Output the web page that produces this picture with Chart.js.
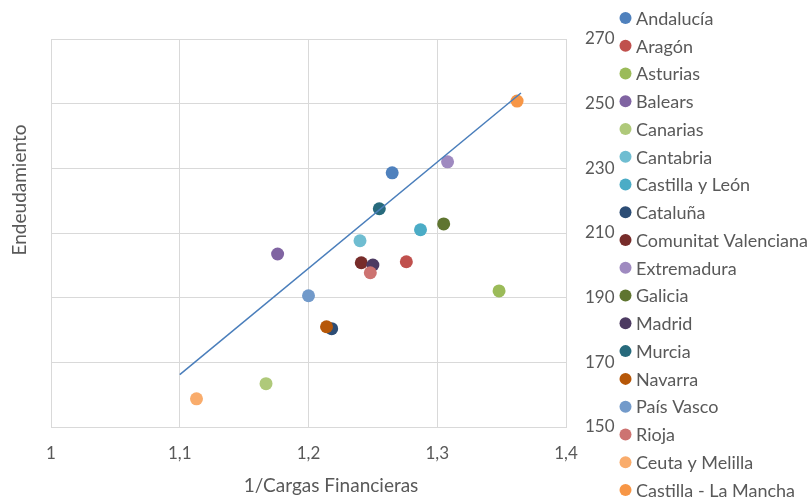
<!DOCTYPE html>
<html>
<head>
<meta charset="utf-8">
<script src="https://cdn.jsdelivr.net/npm/chart.js@4.4.1/dist/chart.umd.min.js"></script>
<style>
  html, body { margin: 0; padding: 0; background: #fff; }
  #wrap { width: 809px; height: 500px; }
</style>
</head>
<body>
<div id="wrap"><canvas id="myChart" width="809" height="500"></canvas></div>
<script>
// regions and their values
var regions = ['Andalucía', 'Aragón', 'Asturias', 'Balears', 'Canarias', 'Cantabria', 'Castilla y León',
  'Cataluña', 'Comunitat Valenciana', 'Extremadura', 'Galicia', 'Madrid', 'Murcia', 'Navarra',
  'País Vasco', 'Rioja', 'Ceuta y Melilla', 'Castilla - La Mancha']
var cargas = [1.265, 1.276, 1.348, 1.176, 1.167, 1.240, 1.287, 1.218, 1.241, 1.308, 1.305, 1.250,
  1.255, 1.214, 1.200, 1.248, 1.113, 1.362]
var endeudamiento = [228.6, 201.1, 192.1, 203.5, 163.4, 207.6, 211.0, 180.4, 200.8, 232.0, 212.8, 200.1,
  217.5, 181.0, 190.6, 197.7, 158.7, 250.8]
// trend line ends
var trendX = [1.1, 1.365]
var trendY = [166.2, 253.3]
// ticks
var xTicks = [1, 1.1, 1.2, 1.3, 1.4]
var yTicks = [150, 170, 190, 210, 230, 250, 270]

var colors = ['#4F81BD', '#C0504D', '#9BBB59', '#8064A2', '#AFC97A', '#6FBDD1', '#4BACC6',
  '#2C4D75', '#772C2A', '#9F8AC0', '#5F7530', '#4D3B62', '#276A7C', '#B65708',
  '#729ACA', '#CD7371', '#F9AC6C', '#F79646']

var FONT = 'Lato, "Liberation Sans", sans-serif'
var GREY = '#595959'

var datasets = []
for (var i = 0; i < regions.length; i++) {
  datasets.push({
    label: regions[i],
    data: [{ x: cargas[i], y: endeudamiento[i] }],
    backgroundColor: colors[i],
    borderColor: colors[i],
    borderWidth: 0,
    pointRadius: 6.5,
    order: regions.length - i + 1
  })
}
datasets.push({
  type: 'line',
  label: 'trend',
  data: trendX.map(function (x, k) { return { x: x, y: trendY[k] } }),
  borderColor: '#4A7EBB',
  borderWidth: 1.5,
  pointRadius: 0,
  fill: false,
  order: 0
})

// legend and axis titles drawn onto the canvas
var extras = {
  id: 'extras',
  afterDraw: function (chart) {
    var c = chart.ctx
    c.save()
    c.font = '18px ' + FONT
    c.textBaseline = 'middle'
    for (var i = 0; i < regions.length; i++) {
      var y = 18 + i * 27.76
      c.beginPath()
      c.fillStyle = colors[i]
      c.arc(625.5, y, 6, 0, Math.PI * 2)
      c.fill()
      c.fillStyle = GREY
      c.textAlign = 'left'
      c.fillText(regions[i], 636, y + 1)
    }
    c.font = '19px ' + FONT
    c.textAlign = 'center'
    c.fillText('1/Cargas Financieras', 331, 486)
    c.translate(20, 190)
    c.rotate(-Math.PI / 2)
    c.fillText('Endeudamiento', 0, 0)
    c.restore()
  }
}

var ctx = document.getElementById('myChart')
var myChart = new Chart(ctx, {
  type: 'scatter',
  data: { datasets: datasets },
  plugins: [extras],
  options: {
    responsive: false,
    animation: false,
    layout: { padding: { left: 51, top: 39, right: 193, bottom: 0 } },
    plugins: { legend: { display: false }, tooltip: { enabled: false } },
    scales: {
      x: {
        type: 'linear',
        min: xTicks[0],
        max: xTicks[xTicks.length - 1],
        afterBuildTicks: function (scale) { scale.ticks = xTicks.map(function (v) { return { value: v } }) },
        afterFit: function (scale) { scale.height = 73 },
        ticks: {
          padding: 16,
          color: GREY,
          font: { family: FONT, size: 17 },
          callback: function (v) { return (Math.round(v * 10) / 10).toString().replace('.', ',') }
        },
        grid: { color: '#D9D9D9', drawTicks: false },
        border: { color: '#D9D9D9' }
      },
      y: {
        position: 'right',
        min: yTicks[0],
        max: yTicks[yTicks.length - 1],
        afterBuildTicks: function (scale) { scale.ticks = yTicks.map(function (v) { return { value: v } }) },
        afterFit: function (scale) { scale.width = 50 },
        ticks: { padding: 19, color: GREY, font: { family: FONT, size: 17 } },
        grid: { color: '#D9D9D9', drawTicks: false },
        border: { color: '#D9D9D9' }
      }
    }
  }
})
</script>
</body>
</html>
